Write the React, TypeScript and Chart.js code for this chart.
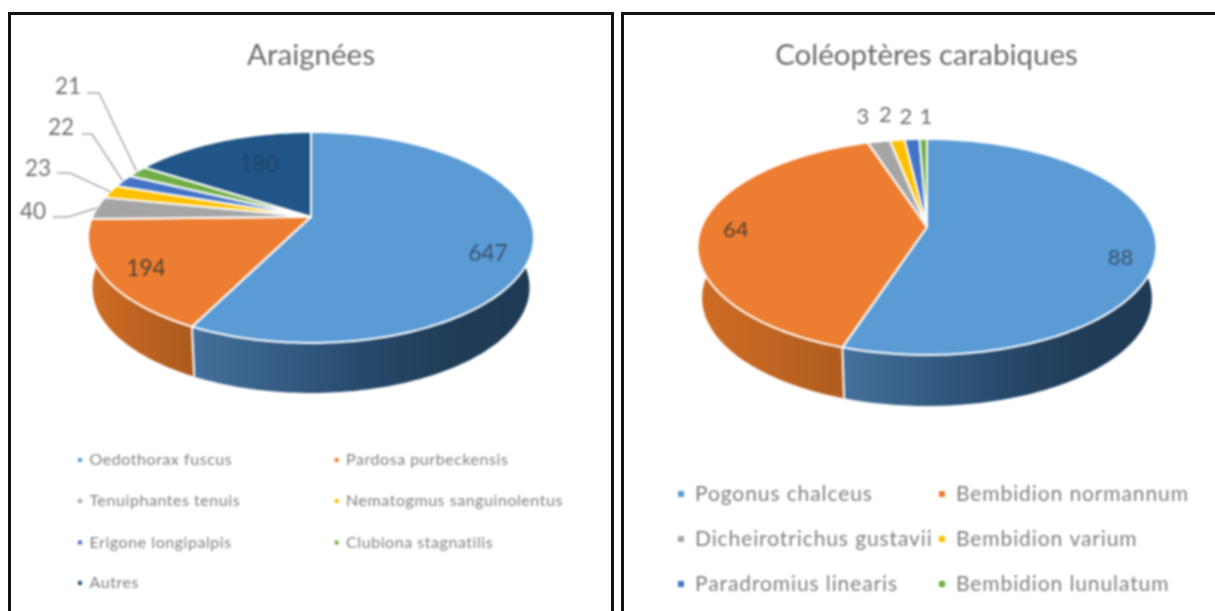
import React, { useEffect, useRef } from "react";
import { Chart, registerables } from "chart.js";

Chart.register(...registerables);

// ---- data ----
const spiderTitle = "Araignées";
const spiderSpecies = [
  "Oedothorax fuscus",
  "Pardosa purbeckensis",
  "Tenuiphantes tenuis",
  "Nematogmus sanguinolentus",
  "Erigone longipalpis",
  "Clubiona stagnatilis",
  "Autres",
];
const spiderCounts = [647, 194, 40, 23, 22, 21, 180];

const beetleTitle = "Coléoptères carabiques";
const beetleSpecies = [
  "Pogonus chalceus",
  "Bembidion normannum",
  "Dicheirotrichus gustavii",
  "Bembidion varium",
  "Paradromius linearis",
  "Bembidion lunulatum",
];
const beetleCounts = [88, 64, 3, 2, 2, 1];

// ---- styles ----
const palette = ["#5B9BD5", "#ED7D31", "#A5A5A5", "#FFC000", "#4472C4", "#70AD47", "#215587"];

type LabelSpot = { x: number; y: number; color: string; leader?: [number, number, number, number] };
type Layout = {
  canvasLeft: number;
  canvasWidth: number;
  cx: number;
  apexY: number;
  A: number;
  B: number;
  k: number;
  depth: number;
  titleSize: number;
  titleTop: number;
  labelSize: number;
  labelSpots: LabelSpot[];
  legendSize: number;
  legendSpacing: string;
  legendColumns: [number, number];
  legendRows: number[];
  markerSize: number;
  markerGap: number;
};

const onBlue = "rgba(52,74,100,0.9)";
const onOrange = "rgba(64,56,48,0.9)";
const outside = "#6f6f6f";

const spiderLayout: Layout = {
  canvasLeft: 0,
  canvasWidth: 622,
  cx: 311,
  apexY: 216.7,
  A: 218.6,
  B: 101.4,
  k: 0.197,
  depth: 50,
  titleSize: 29.5,
  titleTop: 38,
  labelSize: 22.5,
  labelSpots: [
    { x: 488, y: 254, color: onBlue },
    { x: 146, y: 269, color: onOrange },
    { x: 33, y: 212, color: outside, leader: [53, 217, 68, 217] },
    { x: 38, y: 169, color: outside, leader: [57, 173, 70, 173] },
    { x: 61, y: 128, color: outside, leader: [82, 134, 92, 134] },
    { x: 68, y: 87, color: outside, leader: [87, 93, 99, 93] },
    { x: 259, y: 165, color: "#1f4468" },
  ],
  legendSize: 16,
  legendSpacing: "0.55px",
  legendColumns: [80, 336.6],
  legendRows: [460, 501, 542.5, 583],
  markerSize: 4,
  markerGap: 9.5,
};

const beetleLayout: Layout = {
  canvasLeft: 630,
  canvasWidth: 593,
  cx: 927,
  apexY: 227,
  A: 225.5,
  B: 104.3,
  k: 0.185,
  depth: 51,
  titleSize: 29.5,
  titleTop: 38,
  labelSize: 22,
  labelSpots: [
    { x: 1120.5, y: 258, color: onBlue },
    { x: 735.7, y: 230, color: onOrange },
    { x: 863, y: 117, color: outside },
    { x: 885.5, y: 115, color: outside },
    { x: 906, y: 117, color: outside },
    { x: 926, y: 117, color: outside },
  ],
  legendSize: 21,
  legendSpacing: "0.9px",
  legendColumns: [681, 942],
  legendRows: [494, 539, 584],
  markerSize: 6,
  markerGap: 14,
};

const fontFamily = "Lato, 'Open Sans', sans-serif";

// Projects a point of the unit disc, seen in perspective, on to the canvas.
function project(L: Layout, theta: number, r = 1) {
  const u = Math.sin(theta) * r;
  const v = -Math.cos(theta) * r;
  const w = 1 - L.k * v;
  return { x: L.cx - L.canvasLeft + (L.A * u) / w, y: L.apexY + (L.B * v) / w };
}

function rimPoints(L: Layout, a0: number, a1: number) {
  const n = Math.max(2, Math.ceil((a1 - a0) / 0.02));
  const pts = [] as { x: number; y: number }[];
  for (let i = 0; i <= n; i++) pts.push(project(L, a0 + ((a1 - a0) * i) / n));
  return pts;
}

const lower = (L: Layout, p: { x: number; y: number }) => ({
  x: L.cx - L.canvasLeft + (p.x - (L.cx - L.canvasLeft)) * 0.98,
  y: p.y + L.depth,
});

function wallFill(ctx: CanvasRenderingContext2D, color: string, xMin: number, xMax: number) {
  if (color === palette[0]) {
    // the wall of the first slice is only seen from its far end to the right edge
    const g = ctx.createLinearGradient(xMin, 0, xMax, 0);
    g.addColorStop(0, "#44709c");
    g.addColorStop(0.5, "#274a6c");
    g.addColorStop(0.75, "#203c57");
    g.addColorStop(1, "#1f3a54");
    return g;
  }
  if (color === palette[1]) {
    const g = ctx.createLinearGradient(xMin, 0, xMax, 0);
    g.addColorStop(0, "#cf6c24");
    g.addColorStop(1, "#ab5a1e");
    return g;
  }
  return color;
}

function makePlugin(L: Layout) {
  return {
    id: "perspectivePie",
    beforeDatasetDraw(chart: any, args: any) {
      const ctx: CanvasRenderingContext2D = chart.ctx;
      const meta = chart.getDatasetMeta(args.index);
      const colors: string[] = chart.data.datasets[args.index].backgroundColor;
      const arcs = meta.data.map((arc: any, i: number) => ({
        a0: arc.startAngle + Math.PI / 2,
        a1: arc.endAngle + Math.PI / 2,
        color: colors[i],
      }));

      // walls of the cylinder
      ctx.save();
      arcs.forEach((s: any) => {
        const top = rimPoints(L, s.a0, s.a1);
        const bottom = top.map((p) => lower(L, p));
        const xs = top.map((p) => p.x);
        ctx.fillStyle = wallFill(ctx, s.color, Math.min(...xs), Math.max(...xs));
        ctx.beginPath();
        top.forEach((p, i) => (i ? ctx.lineTo(p.x, p.y) : ctx.moveTo(p.x, p.y)));
        bottom.reverse().forEach((p) => ctx.lineTo(p.x, p.y));
        ctx.closePath();
        ctx.fill();
      });
      // white seams on the front of the wall
      arcs.forEach((s: any) => {
        const p = project(L, s.a1);
        if (-Math.cos(s.a1) > 0.3) {
          const q = lower(L, p);
          ctx.strokeStyle = "#ffffff";
          ctx.lineWidth = 2;
          ctx.beginPath();
          ctx.moveTo(p.x, p.y);
          ctx.lineTo(q.x, q.y);
          ctx.stroke();
        }
      });

      // top faces
      arcs.forEach((s: any) => {
        const rim = rimPoints(L, s.a0, s.a1);
        const apex = project(L, 0, 0);
        ctx.beginPath();
        ctx.moveTo(apex.x, apex.y);
        rim.forEach((p) => ctx.lineTo(p.x, p.y));
        ctx.closePath();
        ctx.fillStyle = s.color;
        ctx.fill();
        ctx.strokeStyle = "#ffffff";
        ctx.lineWidth = 2;
        ctx.lineJoin = "round";
        ctx.stroke();
      });
      ctx.restore();
      return false;
    },
    afterDraw(chart: any) {
      const ctx: CanvasRenderingContext2D = chart.ctx;
      const ds = chart.data.datasets[0];
      const meta = chart.getDatasetMeta(0);
      ctx.save();
      // value labels and their leader lines
      ctx.textAlign = "center";
      ctx.textBaseline = "middle";
      ctx.font = `${L.labelSize}px ${fontFamily}`;
      ds.data.forEach((value: number, i: number) => {
        const spot = L.labelSpots[i];
        ctx.fillStyle = spot.color;
        ctx.fillText(String(value), spot.x - L.canvasLeft, spot.y);
        if (spot.leader) {
          const arc = meta.data[i];
          const mid = (arc.startAngle + arc.endAngle) / 2 + Math.PI / 2;
          const end = project(L, mid);
          const [x0, y0, x1, y1] = spot.leader;
          ctx.strokeStyle = "#a6a6a6";
          ctx.lineWidth = 1.5;
          ctx.beginPath();
          ctx.moveTo(x0 - L.canvasLeft, y0);
          ctx.lineTo(x1 - L.canvasLeft, y1);
          ctx.lineTo(end.x, end.y);
          ctx.stroke();
        }
      });
      // legend, two columns
      ctx.textAlign = "left";
      ctx.font = `${L.legendSize}px ${fontFamily}`;
      (ctx as any).letterSpacing = L.legendSpacing;
      chart.data.labels.forEach((label: string, i: number) => {
        const col = L.legendColumns[i % 2] - L.canvasLeft;
        const y = L.legendRows[Math.floor(i / 2)];
        ctx.fillStyle = ds.backgroundColor[i];
        ctx.fillRect(col - L.markerSize / 2, y - L.markerSize / 2, L.markerSize, L.markerSize);
        ctx.fillStyle = "#7f7f7f";
        ctx.fillText(label, col + L.markerGap, y);
      });
      ctx.restore();
    },
  };
}

function PieCanvas(props: { title: string; labels: string[]; values: number[]; layout: Layout }) {
  const { title, labels, values, layout } = props;
  const ref = useRef<HTMLCanvasElement>(null);
  useEffect(() => {
    const chart = new Chart(ref.current as HTMLCanvasElement, {
      type: "pie",
      data: {
        labels,
        datasets: [{ data: values, backgroundColor: palette.slice(0, values.length) }],
      },
      options: {
        animation: false,
        responsive: false,
        plugins: {
          legend: { display: false },
          tooltip: { enabled: false },
          title: {
            display: true,
            text: title,
            color: "#6b6b6b",
            font: { family: fontFamily, size: layout.titleSize, weight: "normal" },
            padding: { top: layout.titleTop, bottom: 0 },
          },
        },
      },
      plugins: [makePlugin(layout)],
    } as any);
    return () => chart.destroy();
  }, []);
  return (
    <canvas
      ref={ref}
      width={layout.canvasWidth}
      height={611}
      style={{
        position: "absolute",
        left: layout.canvasLeft,
        top: 0,
        width: layout.canvasWidth,
        height: 611,
        filter: "blur(0.8px)",
      }}
    />
  );
}

const panel = (left: number, width: number): React.CSSProperties => ({
  position: "absolute",
  left,
  top: 12,
  width,
  height: 620,
  boxSizing: "border-box",
  border: "3px solid #111",
});

export default function App() {
  return (
    <div
      style={{
        position: "fixed",
        left: 0,
        top: 0,
        width: 1215,
        height: 611,
        overflow: "hidden",
        background: "#fff",
      }}
    >
      <div style={panel(8, 606)} />
      <div style={panel(621, 620)} />
      <PieCanvas title={spiderTitle} labels={spiderSpecies} values={spiderCounts} layout={spiderLayout} />
      <PieCanvas title={beetleTitle} labels={beetleSpecies} values={beetleCounts} layout={beetleLayout} />
    </div>
  );
}
